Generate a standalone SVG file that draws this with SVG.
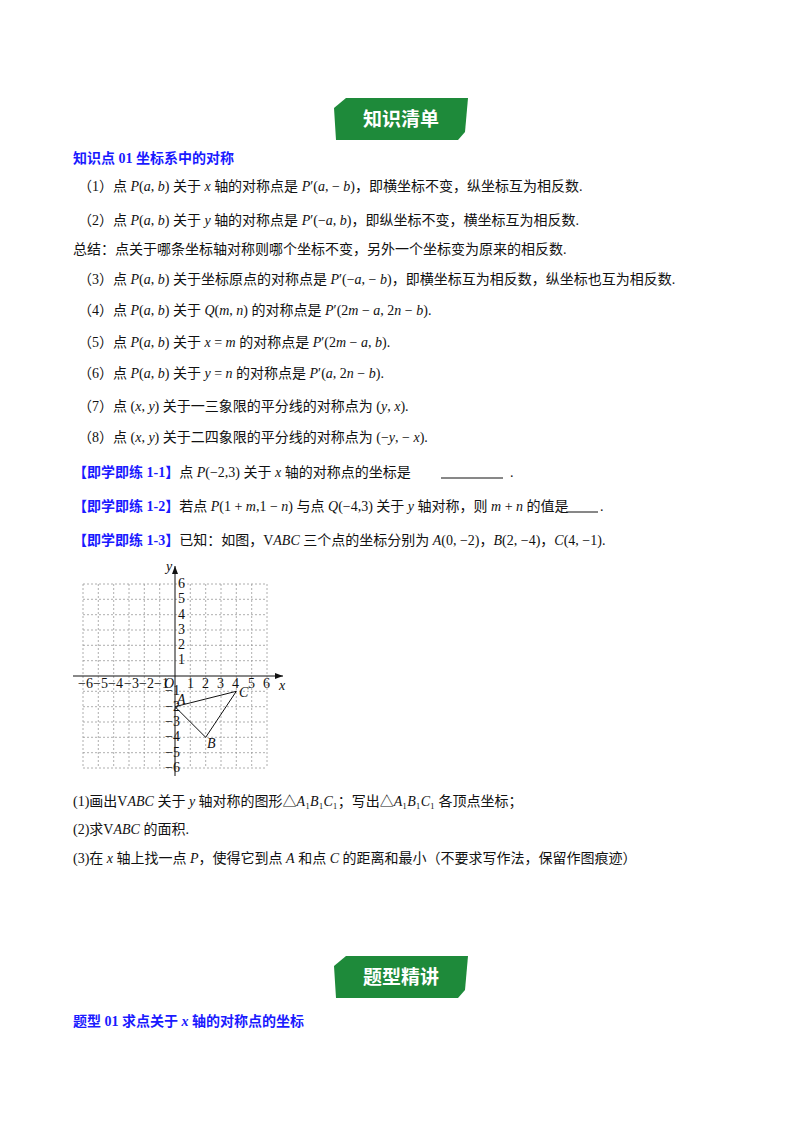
<svg xmlns="http://www.w3.org/2000/svg" width="800" height="1132" viewBox="0 0 800 1132">
<style>
text{font-family:"Liberation Serif","Noto Sans CJK SC",serif;font-size:14px;fill:#111}
.h{fill:#1a1aff;font-weight:bold}
.i{font-style:italic}
.ban{fill:#fff;font-family:"Noto Sans CJK SC",sans-serif;font-weight:bold;font-size:19px}
.g{stroke:#999;stroke-width:0.8;stroke-dasharray:2 2;fill:none}
.ax{font-size:12px}
</style>
<rect width="800" height="1132" fill="#fff"/>
<g id="banner1">
<path d="M346,98 L468,98 L465,132 L458,140 L336,140 L334,108 Z" fill="#1e8a3a"/>
<text class="ban" x="401" y="126" text-anchor="middle">知识清单</text>
</g>
<g id="text1">
<text class="h" x="73" y="163">知识点 01  坐标系中的对称</text>
<text x="78" y="191">（1）点 <tspan class="i">P</tspan>(<tspan class="i">a</tspan>, <tspan class="i">b</tspan>) 关于 <tspan class="i">x</tspan> 轴的对称点是 <tspan class="i">P</tspan>′(<tspan class="i">a</tspan>, − <tspan class="i">b</tspan>)，即横坐标不变，纵坐标互为相反数.</text>
<text x="78" y="225">（2）点 <tspan class="i">P</tspan>(<tspan class="i">a</tspan>, <tspan class="i">b</tspan>) 关于 <tspan class="i">y</tspan> 轴的对称点是 <tspan class="i">P</tspan>′(−<tspan class="i">a</tspan>, <tspan class="i">b</tspan>)，即纵坐标不变，横坐标互为相反数.</text>
<text x="73" y="254">总结：点关于哪条坐标轴对称则哪个坐标不变，另外一个坐标变为原来的相反数.</text>
<text x="78" y="284">（3）点 <tspan class="i">P</tspan>(<tspan class="i">a</tspan>, <tspan class="i">b</tspan>) 关于坐标原点的对称点是 <tspan class="i">P</tspan>′(−<tspan class="i">a</tspan>, − <tspan class="i">b</tspan>)，即横坐标互为相反数，纵坐标也互为相反数.</text>
<text x="78" y="315">（4）点 <tspan class="i">P</tspan>(<tspan class="i">a</tspan>, <tspan class="i">b</tspan>) 关于 <tspan class="i">Q</tspan>(<tspan class="i">m</tspan>, <tspan class="i">n</tspan>) 的对称点是 <tspan class="i">P</tspan>′(2<tspan class="i">m</tspan> − <tspan class="i">a</tspan>, 2<tspan class="i">n</tspan> − <tspan class="i">b</tspan>).</text>
<text x="78" y="347">（5）点 <tspan class="i">P</tspan>(<tspan class="i">a</tspan>, <tspan class="i">b</tspan>) 关于 <tspan class="i">x</tspan> = <tspan class="i">m</tspan> 的对称点是 <tspan class="i">P</tspan>′(2<tspan class="i">m</tspan> − <tspan class="i">a</tspan>, <tspan class="i">b</tspan>).</text>
<text x="78" y="378">（6）点 <tspan class="i">P</tspan>(<tspan class="i">a</tspan>, <tspan class="i">b</tspan>) 关于 <tspan class="i">y</tspan> = <tspan class="i">n</tspan> 的对称点是 <tspan class="i">P</tspan>′(<tspan class="i">a</tspan>, 2<tspan class="i">n</tspan> − <tspan class="i">b</tspan>).</text>
<text x="78" y="411">（7）点 (<tspan class="i">x</tspan>, <tspan class="i">y</tspan>) 关于一三象限的平分线的对称点为 (<tspan class="i">y</tspan>, <tspan class="i">x</tspan>).</text>
<text x="78" y="442">（8）点 (<tspan class="i">x</tspan>, <tspan class="i">y</tspan>) 关于二四象限的平分线的对称点为 (−<tspan class="i">y</tspan>, − <tspan class="i">x</tspan>).</text>
<text x="73" y="477"><tspan class="h">【即学即练 1-1】</tspan>点 <tspan class="i">P</tspan>(−2,3) 关于 <tspan class="i">x</tspan> 轴的对称点的坐标是</text>
<line x1="441" y1="478" x2="503" y2="478" stroke="#111" stroke-width="1"/>
<text x="510" y="477">.</text>
<text x="73" y="511"><tspan class="h">【即学即练 1-2】</tspan>若点 <tspan class="i">P</tspan>(1 + <tspan class="i">m</tspan>,1 − <tspan class="i">n</tspan>) 与点 <tspan class="i">Q</tspan>(−4,3) 关于 <tspan class="i">y</tspan> 轴对称，则 <tspan class="i">m</tspan> + <tspan class="i">n</tspan> 的值是</text>
<line x1="566" y1="512" x2="598" y2="512" stroke="#111" stroke-width="1"/>
<text x="600" y="511">.</text>
<text x="73" y="545"><tspan class="h">【即学即练 1-3】</tspan>已知：如图，V<tspan class="i">ABC</tspan> 三个点的坐标分别为 <tspan class="i">A</tspan>(0, −2)，<tspan class="i">B</tspan>(2, −4)，<tspan class="i">C</tspan>(4, −1).</text>
</g>
<g id="graph">
<g class="g">
<path d="M83,584V768M98.3,584V768M113.7,584V768M129,584V768M144.3,584V768M159.7,584V768M190.3,584V768M205.7,584V768M221,584V768M236.3,584V768M251.7,584V768M267,584V768"/>
<path d="M83,584H267M83,599.3H267M83,614.7H267M83,630H267M83,645.3H267M83,660.7H267M83,691.3H267M83,706.7H267M83,722H267M83,737.3H267M83,752.7H267M83,768H267"/>
</g>
<line x1="73" y1="676" x2="283" y2="676" stroke="#111"/>
<line x1="175" y1="776" x2="175" y2="566" stroke="#111"/>
<path d="M283,676 l-8,-3 v6 z M175,566 l-3,8 h6 z" fill="#111"/>
<path d="M175,706.7 L236.3,691.3 L205.7,737.3 Z" fill="none" stroke="#111"/>
<g class="ax">
<text x="279" y="690" class="i">x</text><text x="166" y="571" class="i">y</text>
<text x="164" y="688" class="i">O</text>
<text x="78" y="688">−6</text><text x="93" y="688">−5</text><text x="108" y="688">−4</text><text x="124" y="688">−3</text><text x="139" y="688">−2</text><text x="154" y="688">−1</text>
<text x="187" y="688">1</text><text x="202" y="688">2</text><text x="217" y="688">3</text><text x="232" y="688">4</text><text x="248" y="688">5</text><text x="263" y="688">6</text>
<text x="178" y="588">6</text><text x="178" y="603">5</text><text x="178" y="619">4</text><text x="178" y="634">3</text><text x="178" y="649">2</text><text x="178" y="664">1</text>
<text x="165" y="695">−1</text><text x="165" y="711">−2</text><text x="165" y="726">−3</text><text x="165" y="741">−4</text><text x="165" y="757">−5</text><text x="165" y="772">−6</text>
<text x="177" y="704" class="i">A</text><text x="207" y="748" class="i">B</text><text x="239" y="697" class="i">C</text>
</g>
</g>
<g id="text2">
<text x="73" y="806">(1)画出V<tspan class="i">ABC</tspan> 关于 <tspan class="i">y</tspan> 轴对称的图形△<tspan class="i">A</tspan>₁<tspan class="i">B</tspan>₁<tspan class="i">C</tspan>₁；写出△<tspan class="i">A</tspan>₁<tspan class="i">B</tspan>₁<tspan class="i">C</tspan>₁ 各顶点坐标；</text>
<text x="73" y="834">(2)求V<tspan class="i">ABC</tspan> 的面积.</text>
<text x="73" y="863">(3)在 <tspan class="i">x</tspan> 轴上找一点 <tspan class="i">P</tspan>，使得它到点 <tspan class="i">A</tspan> 和点 <tspan class="i">C</tspan> 的距离和最小（不要求写作法，保留作图痕迹）</text>
</g>
<g id="banner2">
<path d="M346,956 L468,956 L465,990 L458,998 L336,998 L334,966 Z" fill="#1e8a3a"/>
<text class="ban" x="401" y="984" text-anchor="middle">题型精讲</text>
</g>
<text class="h" x="73" y="1026">题型 01  求点关于 <tspan class="i">x</tspan> 轴的对称点的坐标</text>
</svg>
